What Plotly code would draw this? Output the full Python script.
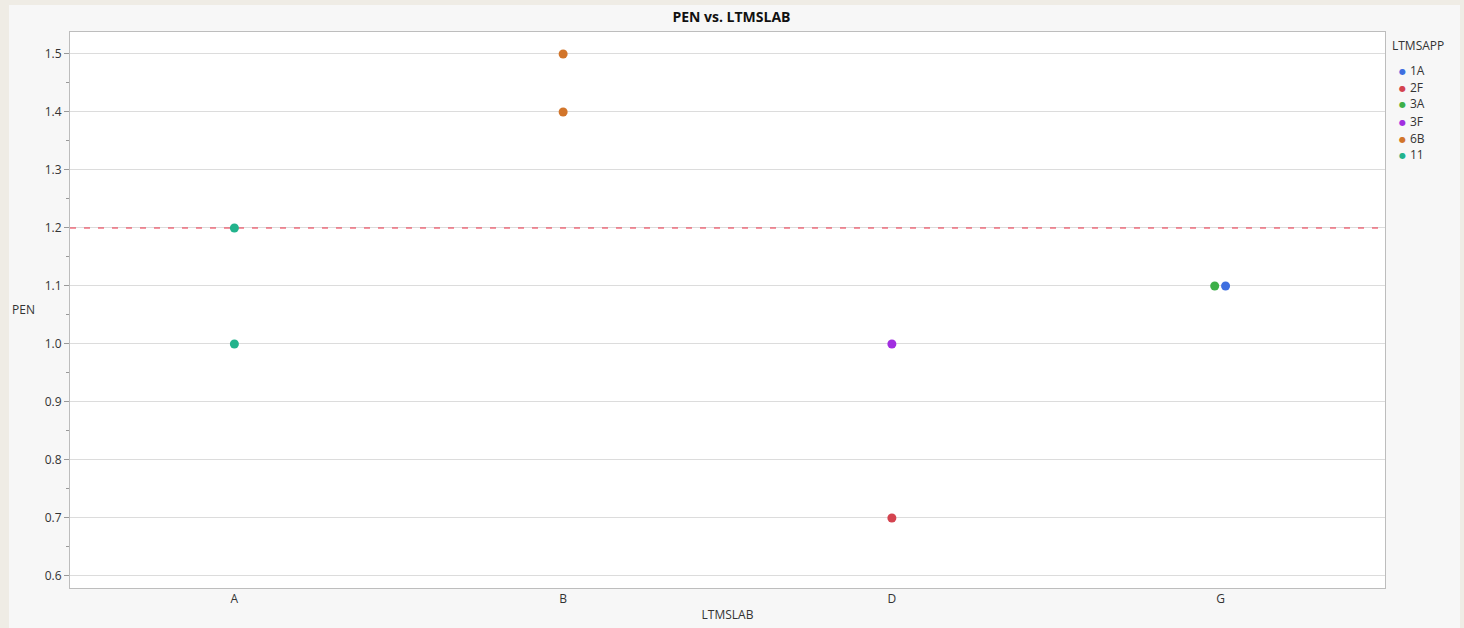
import plotly.graph_objects as go

categories = ["A", "B", "D", "G"]
groups = ["1A", "2F", "3A", "3F", "6B", "11"]
colors = {"1A": "#3f6fe0", "2F": "#d4434f", "3A": "#3daf48", "3F": "#a12ee0", "6B": "#d2752a", "11": "#22b38c"}

# data points (category, PEN) per LTMSAPP group
lab_1A = ["G"]; pen_1A = [1.1]
lab_2F = ["D"]; pen_2F = [0.7]
lab_3A = ["G"]; pen_3A = [1.1]
lab_3F = ["D"]; pen_3F = [1.0]
lab_6B = ["B", "B"]; pen_6B = [1.5, 1.4]
lab_11 = ["A", "A"]; pen_11 = [1.2, 1.0]
# small horizontal jitter as in reference
jit = {"1A": 0.015, "2F": 0.0, "3A": -0.018, "3F": 0.0, "6B": 0.0, "11": 0.0}

data = {"1A": (lab_1A, pen_1A), "2F": (lab_2F, pen_2F), "3A": (lab_3A, pen_3A),
        "3F": (lab_3F, pen_3F), "6B": (lab_6B, pen_6B), "11": (lab_11, pen_11)}
ref_line = 1.2

W, H = 1464, 628
L, R, T, B = 70, 79, 32, 40
pw, ph = W - L - R, H - T - B

def px(x):
    return (x - L) / pw

def py(y):
    return (H - B - y) / ph

xrange_ = [-0.5, len(categories) - 0.5]

fig = go.Figure()
# reference line
fig.add_trace(go.Scatter(x=xrange_, y=[ref_line, ref_line], mode="lines", showlegend=False, hoverinfo="skip",
                         line=dict(color="#ec2f45", width=1.2, dash="6px,8px")))
for g in groups:
    labs, vals = data[g]
    xs = [categories.index(c) + jit[g] for c in labs]
    fig.add_trace(go.Scatter(x=xs, y=vals, mode="markers", name=g, showlegend=False,
                             marker=dict(color=colors[g], size=9)))

# panel background and white plot area (drawn beneath gridlines)
fig.add_shape(type="rect", xref="paper", yref="paper", x0=px(9), x1=px(1460), y0=py(640), y1=py(5),
              fillcolor="#f7f7f7", line=dict(width=0), layer="below")
fig.add_shape(type="rect", xref="paper", yref="paper", x0=0, x1=1, y0=0, y1=1,
              fillcolor="#ffffff", line=dict(width=0), layer="below")

font = "Open Sans, DejaVu Sans, sans-serif"
fig.update_layout(
    width=W, height=H,
    margin=dict(l=L, r=R, t=T, b=B, autoexpand=False),
    paper_bgcolor="#efece5", plot_bgcolor="#ffffff",
    font=dict(family=font, size=12, color="#333333"),
    title=dict(text="<b>PEN vs. LTMSLAB</b>", x=px(727), xanchor="center", y=1 - 17 / H, yanchor="middle",
               font=dict(size=14, color="#111111")),
    showlegend=False,
    xaxis=dict(range=xrange_, tickmode="array", tickvals=list(range(len(categories))), ticktext=categories,
               showgrid=False, zeroline=False, showline=True, linecolor="#bdbdbd", mirror=True, ticks="",
               automargin=False,
               title=dict(text="LTMSLAB", standoff=4, font=dict(size=12))),
    yaxis=dict(range=[0.5793, 1.5379], dtick=0.1, tick0=0, tickformat=".1f", showgrid=True, gridcolor="#dcdcdc",
               zeroline=False, showline=True, linecolor="#bdbdbd", mirror=True, ticks="outside", ticklen=5,
               tickcolor="#999999", automargin=False,
               minor=dict(dtick=0.05, ticks="outside", ticklen=3, tickcolor="#999999", showgrid=False)),
)
fig.add_annotation(text="PEN", xref="paper", yref="paper", x=px(10), y=py(309), xanchor="left", yanchor="middle",
                   showarrow=False, font=dict(size=12, color="#333333"))

# legend
fig.add_annotation(text="LTMSAPP", xref="paper", yref="paper", x=px(1390), y=py(46), xanchor="left",
                   yanchor="middle", showarrow=False, font=dict(size=12, color="#333333"))
for i, g in enumerate(groups):
    yy = py(70 + 17 * i)
    fig.add_annotation(text="●", xref="paper", yref="paper", x=px(1402), y=yy, xanchor="center",
                       yanchor="middle", showarrow=False, font=dict(size=8, color=colors[g]))
    fig.add_annotation(text=g, xref="paper", yref="paper", x=px(1408), y=yy, xanchor="left",
                       yanchor="middle", showarrow=False, font=dict(size=12, color="#333333"))

fig.write_html("out.html", config={"displayModeBar": False},
               post_script="document.body.style.margin='0';document.body.style.overflow='hidden';")
